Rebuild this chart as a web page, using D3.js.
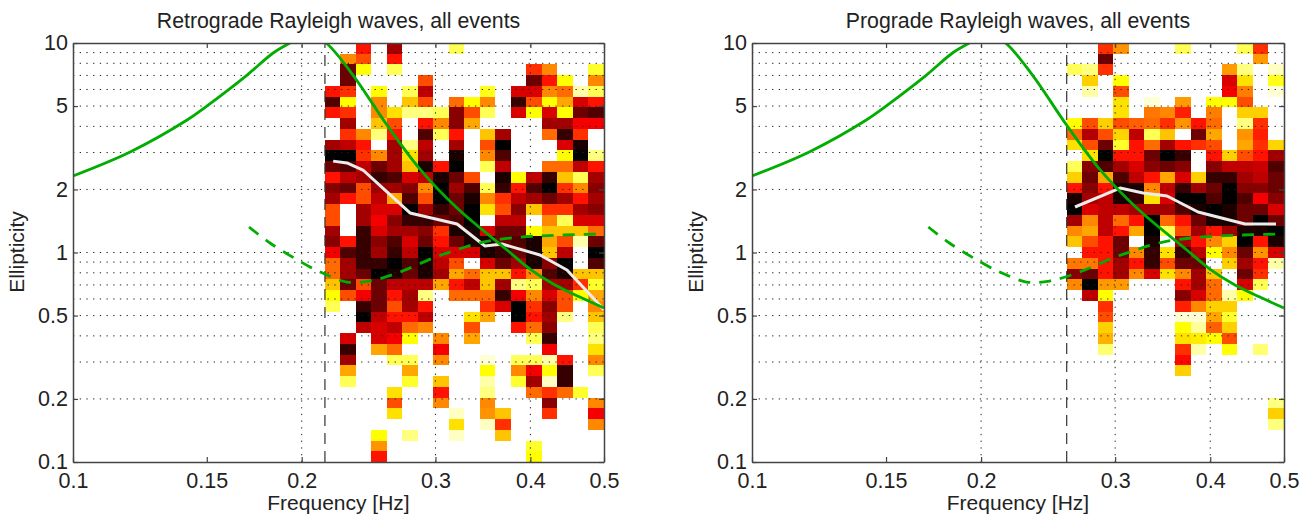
<!DOCTYPE html>
<html><head><meta charset="utf-8">
<script src="https://cdn.jsdelivr.net/npm/d3@7"></script>
<style>html,body{margin:0;padding:0;background:#fff}svg{display:block}text{font-family:"Liberation Sans",Arial,sans-serif;fill:#222}</style>
</head><body><svg id="c" width="1307" height="517"></svg>
<script>
const xTickValues=[0.1,0.15,0.2,0.3,0.4,0.5];
const xGridValues=[0.2,0.3,0.4];
const yTickValues=[0.1,0.2,0.5,1,2,5,10];
const yGridValues=[0.2,0.3,0.4,0.5,0.6,0.7,0.8,0.9,1,2,3,4,5,6,7,8,9];
const rowCount=39;

const theoryRetroFreq=[0.1,0.1189,0.1413,0.15,0.1695,0.1834,0.193,0.204,0.2153,0.2336,0.259,0.2862,0.3203,0.3727,0.3995,0.4311,0.4648,0.5];
const theoryRetroEll=[2.32,3.02,4.29,5.0,7.03,8.96,10,11,10,7.03,4.06,2.5,1.63,1.028,0.834,0.70,0.613,0.543];
const theoryProFreq=[0.1705,0.1817,0.2051,0.216,0.2294,0.246,0.2694,0.2977,0.3134,0.3465,0.391,0.4416,0.5];
const theoryProEll=[1.324,1.11,0.853,0.781,0.723,0.731,0.807,0.941,1.005,1.122,1.186,1.212,1.225];

const retroMedFreq=[0.22,0.2294,0.2408,0.259,0.2777,0.3203,0.3486,0.367,0.4118,0.4469,0.4895,0.5];
const retroMedEll=[2.73,2.675,2.476,1.945,1.544,1.368,1.074,1.098,0.973,0.825,0.5805,0.5316];
const proMedFreq=[0.2657,0.3045,0.3265,0.351,0.3855,0.4444,0.488];
const proMedEll=[1.649,2.03,1.923,1.861,1.561,1.368,1.368];

const retroStartFreq=0.2146;
const proStartFreq=0.2591;

const retroCells=[
[0,0,7,0,9,0,0,0,2,0,0,0,0,0,0,0,0,0],
[0,5,6,0,7,0,0,0,0,0,0,0,0,0,0,0,0,0],
[0,10,3,0,2,0,0,0,0,0,0,0,0,6.5,5,0,0,2.5],
[0,10,0,0,0,0,6,0,0,0,0,0,0,10,7,3,0,5],
[7,6.5,0,3,0,2,8.5,0,0,0,2.7,0,8,8,5,5.5,1,2],
[10.5,3,0,5,0,4,6,0,5.5,3,5,0,11,6,3,4.5,8,7],
[7,6.5,0,5,3.5,1.5,1.5,2,9.5,6,2,0,8,3,8,3,10,10.5],
[0,9,0,4,6,0,7,5,9.5,4.5,0,0,0,0,9,9,7.5,7.5],
[0,6.5,5,1.5,7,0,10.5,2,7,0,4,9,0,0,5.5,11,6.5,0],
[9,8.5,7,0,9,1.5,8.5,0,9,0,6,12,0,0,0,8,11.5,0],
[12,12,6.5,5,9,3.5,9,0,11.5,0,5,10.5,0,0,0,3,12,1.5],
[10,10.5,8.5,10,9,4,11.5,7,12,0,2,8.5,0,0,5.5,5.5,8.5,7],
[7,8.5,9,11,10.5,8,8.5,11.5,10,6,0,11.5,3,8.5,11,4,2,9],
[9.5,10,6,9,9,9.5,5,12,9,10.5,2,11,7,10.5,12,6.5,5,9.5],
[9,7,6,8.5,4.5,10.5,6,12,10,11.5,5,6.5,8.5,9,10,9,7,9],
[6,0,9,8,8,12,9,11,10,12,3.5,6,9.5,4,6.5,6.5,9,9.5],
[6,0,9,7.5,9.5,11,11,10,10.5,12,0,8.5,8.5,0,5,2,8,8],
[9,0,11,8,9,9,9.5,6.5,11.5,11.5,8,10,10,3,4,4,4,5.5],
[9.5,7,11,9.5,10.5,8,10,7,10,11.5,11.5,10,10.5,11.5,4.5,6,1,10],
[7.5,10.5,11,9,11,8.5,12,8,8,8,11.5,11,10,11.5,4,8.5,0,12],
[5.5,9,11,11,12,10.5,11.5,8.5,6,0,8,10,9,11.5,9.5,12,0,10.5],
[5.5,9,10,12,11.5,10,11.5,9,4.5,5.5,4,4,7,5,10.5,11.5,4,4],
[4,10,6,10,8.5,8.5,8.5,4.5,7,8.5,4,9,1.5,2,9,9,6.5,2.5],
[3,6,7.5,10,7,9,1.5,0,5.5,5.5,5.5,11,7.5,5,8,6,3,4.5],
[2,0,11,10,6,9,7,0,0,0,6.5,8,12,6.5,9.5,6,0,5],
[0,0,12,8.5,7,7,8.5,0,0,3.5,4.5,0,12,7,9,1.5,0,4],
[0,0,8.5,8,8.5,5.5,5,0,0,6,0,0,7,5.5,9.5,0,0,2],
[0,8,0,8,7.5,3,0,5,0,4.5,0,0,0,2,11,0,0,1.5],
[0,11,0,4.5,5.5,0,0,7.5,0,0,0,0,0,0,7.5,0,0,3.5],
[0,9,0,0,2,2,0,5,0,0,0.5,0,2,2,1,7,0,5],
[0,4.5,0,0,0,4.5,0,0,0,0,3,0,5,7.5,3,11,0,2],
[0,2,0,0,0,2.5,0,4,0,0,1,0,2.5,9,0.7,11,0,0],
[0,0,0,0,3.5,0,0,7,0,0,1.5,0,0,5.5,6.5,5.5,2.5,0],
[0,0,0,0,6,0,0,5,0,0,5,0,0,0,9.5,0,0,5],
[0,0,0,0,3.5,0,0,0,0.7,0,4.8,4,0,0,6.5,0,0,7.5],
[0,0,0,0,0,0,0,0,3.5,0,0.7,6.5,0,0,0,0,0,5],
[0,0,0,3,0,1.5,0,0,0.7,0,0,4,0,0,0,0,0,0],
[0,0,0,4.8,0,0,0,0,0,0,0,0,0,2.5,0,0,0,0],
[0,0,0,7,0,0,0,0,0,0,0,0,0,3,0,0,0,0]
];

const proCells=[
[0,0,6.5,4.8,0,0,0,2,0,0,0,2,6.5,0],
[0,0,10,0,0,0,0,0,0,0,0,0,4.7,0],
[2,1.5,6.5,0,0,0,0,0,0,0,4.7,1.5,0,0.7],
[0,3.8,0,3,0,0,0,0,0,0,8,3.5,0,2.7],
[0,1,0,6,0,0,0,0,0,0,7.5,5.2,0,0.5],
[0,0,0,3.5,0,0.5,0,4.7,0,3,3,6,0,0],
[0,0,0,3.5,0,5.3,5,6.8,0,5.2,0,3.8,3.8,0],
[3,6,3.8,6,5.7,5.5,6.5,4.8,7,5.5,0,1.5,6.5,0],
[5.5,8.7,6,3.7,8.5,2,4,0,10,4.5,0,4.8,6.8,0],
[3.5,6,10,2.5,7,5.5,9,7,6.5,6,0,4.5,6.5,3.7],
[0,3.5,12,7,7,10,12,11,0,7,3.8,6,7,9],
[2,9.5,10.5,9,8,9.5,10,9.5,0,9.5,8.5,8.5,8.3,10.5],
[3.8,10,4.5,10.5,8.5,7,4.5,8,3.8,11,11,9,8.5,10],
[7,9.5,7,11.5,11.5,5,8.5,11,9,10,12,9.5,9.5,10],
[11.5,9,8.5,11.5,11,3.5,8,12,12,10.5,12,10.5,7.5,9.5],
[12,8,8.5,8.5,9,9,9,10.5,11.5,12,11.5,10,10,8],
[9,5,8.5,5.5,7,12,5.5,7,10,11.5,11.5,10,12,10],
[5,4.5,8.5,7,4.5,12,2,6,9,7,9,11.5,11.5,12],
[4,6,7,10,0,11.5,0,9,7,5,3.8,12,7,11.5],
[0,7,7,10,5,11,3.5,11,8.5,3,5,10,4.8,8],
[5.3,5.3,7,9,7,11,6,10,10,0,3.8,9,7,1],
[9.5,10,7,9,5,8,3.5,5,9,4,0,10,6.5,0],
[5,12,4.7,4.7,0,0,0,7,9,5.5,0,8,2,0],
[0,8.5,3,0,0,0,0,9.5,8,5.5,1,3,0,0],
[0,0,6.5,0,0,0,0,6.8,5,3.8,3.8,0,0,0],
[0,0,6,0,0,0,0,0.5,0.5,4.5,2.5,0,0,0],
[0,0,3.8,0,0,0,0,3,1.2,5.7,3.8,0,0,0],
[0,0,4.3,0,0,0,0,3.5,3.3,3,6,0,0,0],
[0,0,1.7,0,0,0,0,6.5,1,0,3,0,1.7,0],
[0,0,0,0,0,0,0,7.2,0,0,0,0,0,0],
[0,0,0,0,0,0,0,3.8,0,0,0,0,0,0],
[0,0,0,0,0,0,0,0,0,0,0,0,0,0],
[0,0,0,0,0,0,0,0,0,0,0,0,0,0],
[0,0,0,0,0,0,0,0,0,0,0,0,0,1.5],
[0,0,0,0,0,0,0,0,0,0,0,0,0,3.8],
[0,0,0,0,0,0,0,0,0,0,0,0,0,1.5],
[0,0,0,0,0,0,0,0,0,0,0,0,0,0],
[0,0,0,0,0,0,0,0,0,0,0,0,0,0],
[0,0,0,0,0,0,0,0,0,0,0,0,0,0]
];

const svg=d3.select("#c");
const color=d3.scaleLinear().domain([0,3,7.3,12]).range(["#ffffff","#ffff00","#ff0000","#000000"]);
const ink="#444";

function panel(id,left,right,title,cells,startFreq,medF,medE){
  const x=d3.scaleLog().domain([0.1,0.5]).range([left,right]);
  const y=d3.scaleLog().domain([0.1,10]).range([462,43]);
  const g=svg.append("g");
  const clip="clip"+id;
  svg.append("defs").append("clipPath").attr("id",clip).append("rect")
    .attr("x",left).attr("y",43).attr("width",right-left).attr("height",419);
  const nCols=cells[0].length;
  const xEdge=c=>x(startFreq*Math.pow(0.5/startFreq,c/nCols));
  const yEdge=r=>y(10*Math.pow(0.01,r/rowCount));
  cells.forEach((row,r)=>row.forEach((v,c)=>{
    if(v>0) g.append("rect").attr("x",xEdge(c)).attr("y",yEdge(r))
      .attr("width",xEdge(c+1)-xEdge(c)).attr("height",yEdge(r+1)-yEdge(r))
      .attr("fill",color(v)).attr("shape-rendering","crispEdges");
  }));
  const dots="1.3 5.4";
  g.selectAll(".gx").data(xGridValues).join("line")
    .attr("x1",d=>x(d)).attr("x2",d=>x(d)).attr("y1",462).attr("y2",43)
    .attr("stroke","#222").attr("stroke-width",1).attr("stroke-dasharray",dots);
  g.selectAll(".gy").data(yGridValues).join("line")
    .attr("x1",left).attr("x2",right).attr("y1",d=>y(d)).attr("y2",d=>y(d))
    .attr("stroke","#222").attr("stroke-width",1).attr("stroke-dasharray",dots);
  g.append("line").attr("x1",x(startFreq)).attr("x2",x(startFreq)).attr("y1",462).attr("y2",43)
    .attr("stroke","#333").attr("stroke-width",1.2).attr("stroke-dasharray","11 7");
  const line=(fs,es,curve)=>d3.line().x(i=>x(fs[i])).y(i=>y(es[i])).curve(curve)(d3.range(fs.length));
  const lines=g.append("g").attr("clip-path",`url(#${clip})`);
  const smooth=d3.curveCatmullRom.alpha(0.5);
  lines.append("path").attr("d",line(medF,medE,d3.curveLinear)).attr("fill","none").attr("stroke","#ececec").attr("stroke-width",3).attr("stroke-linejoin","round");
  lines.append("path").attr("d",line(theoryRetroFreq,theoryRetroEll,smooth)).attr("fill","none").attr("stroke","#00ad00").attr("stroke-width",2.8);
  lines.append("path").attr("d",line(theoryProFreq,theoryProEll,smooth)).attr("fill","none").attr("stroke","#00ad00").attr("stroke-width",2.8).attr("stroke-dasharray","12 9");

  const style=a=>{a.selectAll("line").attr("stroke",ink).attr("stroke-width",1.2);
    a.selectAll("path").attr("stroke",ink).attr("stroke-width",1.5);
    a.selectAll("text").attr("font-size",21.5).attr("fill","#222");};
  const fmt=d=>String(d);
  g.append("g").attr("transform","translate(0,462)")
    .call(d3.axisBottom(x).tickValues(xTickValues).tickFormat(fmt).tickSize(-5).tickSizeOuter(0).tickPadding(11)).call(style);
  g.append("g").attr("transform","translate(0,43)")
    .call(d3.axisTop(x).tickValues(xTickValues).tickFormat("").tickSize(-5).tickSizeOuter(0)).call(style);
  g.append("g").attr("transform",`translate(${left},0)`)
    .call(d3.axisLeft(y).tickValues(yTickValues).tickFormat(fmt).tickSize(-5).tickSizeOuter(0).tickPadding(5)).call(style);
  g.append("g").attr("transform",`translate(${right},0)`)
    .call(d3.axisRight(y).tickValues(yTickValues).tickFormat("").tickSize(-5).tickSizeOuter(0)).call(style);

  const cx=(left+right)/2;
  g.append("text").attr("x",cx).attr("y",28).attr("text-anchor","middle").attr("font-size",21.3).text(title);
  g.append("text").attr("x",cx).attr("y",510).attr("text-anchor","middle").attr("font-size",21).text("Frequency [Hz]");
  g.append("text").attr("transform",`translate(${left-49},252) rotate(-90)`).attr("text-anchor","middle").attr("font-size",21).text("Ellipticity");
}
panel("a",73,604,"Retrograde Rayleigh waves, all events",retroCells,retroStartFreq,retroMedFreq,retroMedEll);
panel("b",752,1284,"Prograde Rayleigh waves, all events",proCells,proStartFreq,proMedFreq,proMedEll);
</script></body></html>
